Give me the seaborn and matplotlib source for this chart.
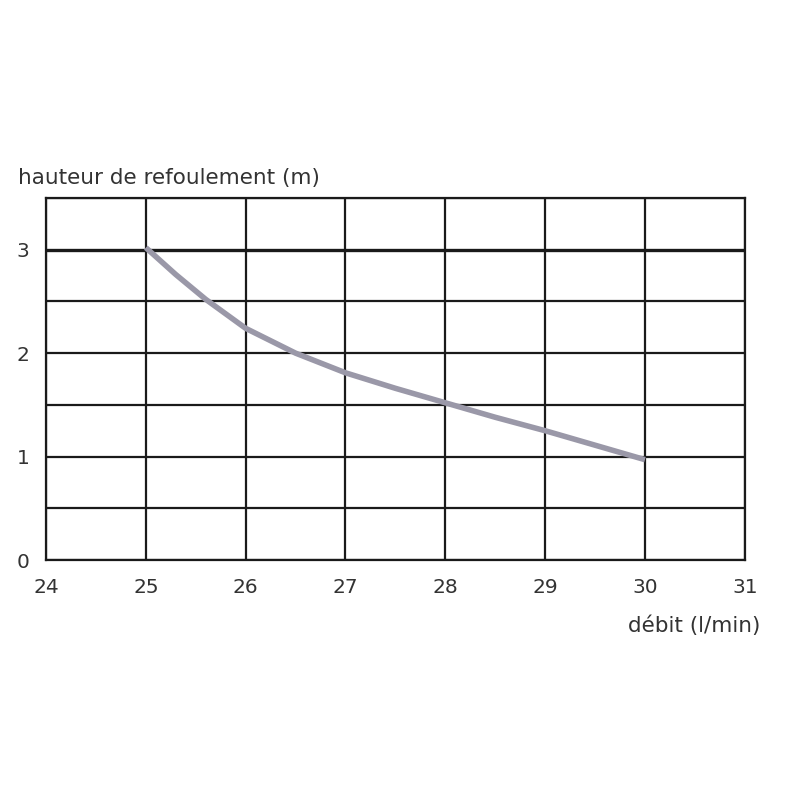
import numpy as np
import pandas as pd
import matplotlib
matplotlib.use("Agg")
import matplotlib.pyplot as plt
import seaborn as sns

debit = [25, 25.3, 25.6, 26, 26.5, 27, 27.5, 28, 28.5, 29, 29.5, 30]
hauteur = [3.02, 2.76, 2.52, 2.24, 2.0, 1.81, 1.66, 1.52, 1.38, 1.25, 1.11, 0.97]
x_ticks = [24, 25, 26, 27, 28, 29, 30, 31]
y_ticks = [0, 1, 2, 3]

df = pd.DataFrame({"debit": debit, "hauteur": hauteur})

sns.set_style("white")
plt.rcParams['font.family'] = ['DejaVu Sans']

fig = plt.figure(figsize=(8, 8), dpi=100)
ax = fig.add_axes([0.0575, 0.30, 0.8735, 0.4525])

# grid
for xv in np.arange(24, 31.01, 1):
    ax.axvline(xv, color='#1a1a1a', lw=1.6, zorder=1)
for yv in np.arange(0, 3.51, 0.5):
    ax.axhline(yv, color='#1a1a1a', lw=2.4 if yv == 3 else 1.6, zorder=1)

sns.lineplot(data=df, x="debit", y="hauteur", color='#9a98a8', lw=4, ax=ax,
             zorder=3, solid_capstyle='butt')

ax.set_xlim(24, 31)
ax.set_ylim(0, 3.5)
ax.set_xticks(x_ticks)
ax.set_yticks(y_ticks)
ax.set_xticklabels([str(v) for v in x_ticks], fontsize=14.5, color='#333333')
ax.set_yticklabels([str(v) for v in y_ticks], fontsize=14.5, color='#333333')
ax.tick_params(axis='x', length=0, pad=13)
ax.tick_params(axis='y', length=0, pad=12)
for s in ax.spines.values():
    s.set_visible(True)
    s.set_color('#1a1a1a')
    s.set_linewidth(1.6)

ax.set_xlabel('')
ax.set_ylabel('')
fig.text(0.022, 0.777, 'hauteur de refoulement (m)', fontsize=15.5, color='#333333', va='center')
fig.text(0.951, 0.218, 'débit (l/min)', fontsize=15.5, color='#333333', va='center', ha='right')

fig.savefig('out.png', dpi=100)
